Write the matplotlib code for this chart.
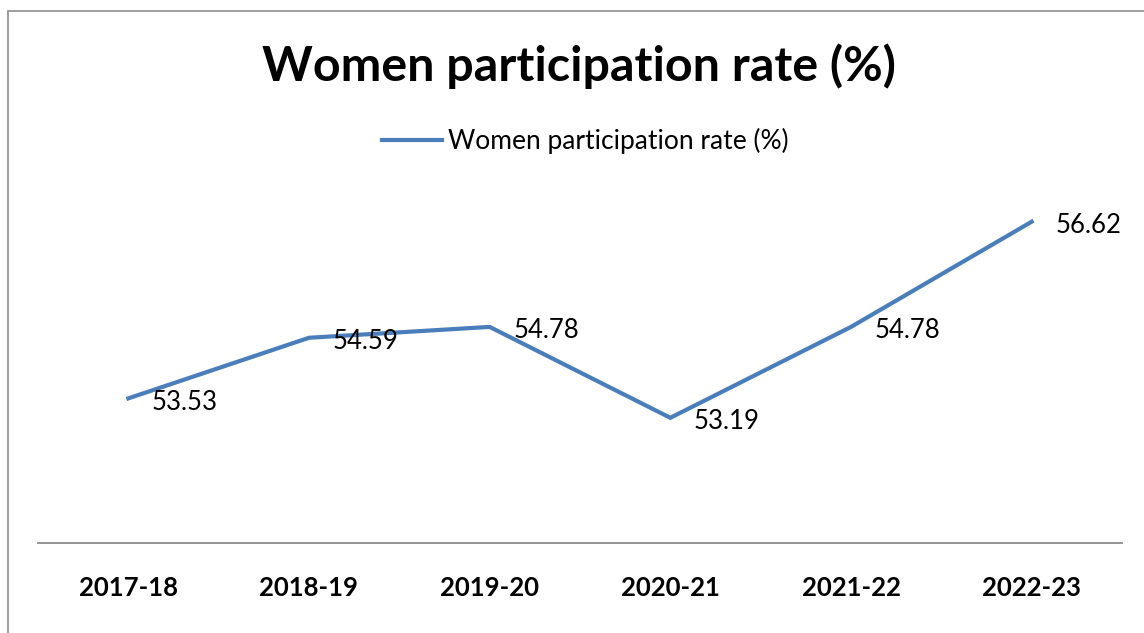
import matplotlib
matplotlib.use("Agg")
import matplotlib.pyplot as plt
from matplotlib.patches import Rectangle

categories = ["2017-18", "2018-19", "2019-20", "2020-21", "2021-22", "2022-23"]
values = [53.53, 54.59, 54.78, 53.19, 54.78, 56.62]
series_name = "Women participation rate (%)"
title = "Women participation rate (%)"

W, H = 1144, 633
fig = plt.figure(figsize=(W / 100, H / 100), dpi=100)
fig.patch.set_facecolor("white")

# chart border (right/bottom edges lie outside the image)
fig.patches.append(Rectangle((8 / W, -0.1), 1.2, 1 - 11 / H + 0.1, transform=fig.transFigure,
                             fill=False, edgecolor="#8c8c8c", linewidth=1.2))

ax = fig.add_axes([38 / W, 1 - 543 / H, (1122 - 38) / W, (543 - 200) / H])
x = list(range(len(categories)))
line, = ax.plot(x, values, color="#4A7EBB", linewidth=3.0, solid_joinstyle="miter",
                label=series_name)
ax.set_xlim(-0.5, len(categories) - 0.5)
ax.set_ylim(51, 57)

for xi, v in zip(x, values):
    ax.annotate(f"{v:.2f}", (xi, v), xytext=(17, -2.8), textcoords="offset points",
                ha="left", va="center", fontsize=18.5, family="Lato", color="black")

ax.set_xticks(x)
ax.set_xticklabels(categories, fontsize=18.5, family="Lato", fontweight="bold")
ax.tick_params(axis="x", length=0, pad=24)
ax.set_yticks([])
for s in ["left", "right", "top"]:
    ax.spines[s].set_visible(False)
ax.spines["bottom"].set_color("#8a8a8a")
ax.spines["bottom"].set_linewidth(1.3)

fig.text(578.5 / W, 1 - 81 / H, title, ha="center", va="baseline", fontsize=34.8,
         family="Lato", fontweight="bold")

leg = fig.legend(handles=[line], loc="center", bbox_to_anchor=(585.5 / W, 1 - 141 / H),
                 frameon=False, prop={"family": "Lato", "size": 19},
                 handlelength=2.25, handletextpad=0.25)

fig.savefig("out.png", dpi=100)
